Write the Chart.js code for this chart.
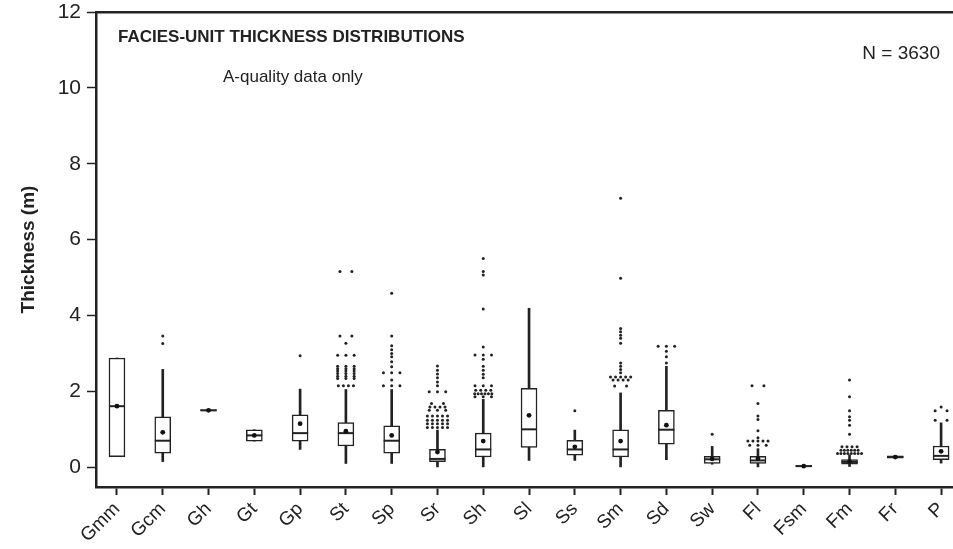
<!DOCTYPE html>
<html>
<head>
<meta charset="utf-8">
<title>Facies-unit thickness distributions</title>
<script src="https://cdn.jsdelivr.net/npm/chart.js@4.4.1/dist/chart.umd.min.js"></script>
<style>
  html, body { margin: 0; padding: 0; background: #fff; overflow: hidden; }
  #wrap { width: 953px; height: 549px; position: relative; }
</style>
</head>
<body>
<div id="wrap"><canvas id="boxChart"></canvas></div>
<script>
// facies codes along the x axis
var categories = ['Gmm', 'Gcm', 'Gh', 'Gt', 'Gp', 'St', 'Sp', 'Sr', 'Sh', 'Sl', 'Ss', 'Sm', 'Sd', 'Sw', 'Fl', 'Fsm', 'Fm', 'Fr', 'P'];

// box-plot statistics, thickness in metres
var whiskerLow  = [0.28, 0.15, 1.49, 0.69, 0.47, 0.10, 0.10, 0.01, 0.01, 0.18, 0.18, 0.01, 0.20, 0.08, 0.01, 0.00, 0.02, 0.24, 0.11];
var q1          = [0.28, 0.37, 1.49, 0.69, 0.69, 0.56, 0.37, 0.15, 0.27, 0.52, 0.32, 0.27, 0.61, 0.10, 0.10, 0.00, 0.08, 0.24, 0.20];
var median      = [1.61, 0.70, 1.50, 0.84, 0.90, 0.90, 0.70, 0.22, 0.47, 1.00, 0.47, 0.47, 0.99, 0.21, 0.18, 0.03, 0.14, 0.27, 0.30];
var q3          = [2.88, 1.33, 1.52, 0.99, 1.38, 1.18, 1.09, 0.47, 0.90, 2.08, 0.71, 0.99, 1.50, 0.29, 0.29, 0.05, 0.20, 0.30, 0.56];
var whiskerHigh = [2.88, 2.58, 1.52, 0.99, 2.06, 2.05, 2.05, 0.98, 1.79, 4.19, 0.98, 1.96, 2.66, 0.55, 0.49, 0.05, 0.33, 0.30, 1.17];
var mean        = [1.61, 0.92, 1.50, 0.84, 1.15, 0.95, 0.84, 0.40, 0.69, 1.37, 0.54, 0.69, 1.11, 0.22, 0.23, 0.03, 0.15, 0.27, 0.42];

// outlying values per facies (repeated values sit side by side)
var outliers = [
    [],
    [3.46, 3.26],
    [],
    [],
    [2.94],
    [5.16, 5.16, 3.46, 3.46, 3.27, 2.95, 2.95, 2.95, 2.66, 2.66, 2.66, 2.60, 2.60, 2.60, 2.54, 2.54, 2.54,
     2.47, 2.47, 2.47, 2.40, 2.40, 2.40, 2.34, 2.34, 2.34, 2.15, 2.15, 2.15, 2.15],
    [4.59, 3.46, 3.20, 3.10, 3.00, 2.91, 2.78, 2.65, 2.49, 2.49, 2.49, 2.30, 2.15, 2.15, 2.15],
    [2.67, 2.56, 2.46, 2.36, 2.25, 2.15, 1.99, 1.99, 1.99, 1.68, 1.68, 1.59, 1.59, 1.59, 1.59, 1.50, 1.50, 1.50,
     1.35, 1.35, 1.35, 1.35, 1.35, 1.24, 1.24, 1.24, 1.24, 1.24, 1.15, 1.15, 1.15, 1.15, 1.15, 1.05, 1.05, 1.05, 1.05, 1.05],
    [5.50, 5.16, 5.07, 4.17, 3.17, 2.96, 2.96, 2.96, 2.85, 2.66, 2.56, 2.45, 2.36, 2.15, 2.15, 2.15,
     2.03, 2.03, 2.03, 2.03, 1.94, 1.94, 1.94, 1.94, 1.94, 1.94, 1.86, 1.86, 1.86],
    [],
    [1.49],
    [7.09, 4.98, 3.66, 3.57, 3.48, 3.40, 3.27, 2.75, 2.66, 2.58, 2.49, 2.38, 2.38, 2.38, 2.38, 2.38,
     2.30, 2.30, 2.30, 2.30, 2.14, 2.14],
    [3.19, 3.19, 3.19, 3.06, 2.91, 2.75],
    [0.87],
    [2.15, 2.15, 1.68, 1.35, 1.26, 0.96, 0.78, 0.69, 0.69, 0.69, 0.69, 0.69, 0.58, 0.58, 0.58],
    [],
    [2.30, 1.86, 1.49, 1.33, 1.24, 1.11, 0.87, 0.54, 0.54, 0.54, 0.54, 0.45, 0.45, 0.45, 0.45, 0.45, 0.45,
     0.36, 0.36, 0.36, 0.36, 0.36, 0.36, 0.36, 0.36],
    [],
    [1.59, 1.49, 1.49, 1.24, 1.24]
];

var yTicks = [0, 2, 4, 6, 8, 10, 12];

var FONT = "'Liberation Sans', Arial, Helvetica, sans-serif";
var INK = '#222';

// horizontal spread for n equal values, in category units
function dotOffsets(n) {
    var step = n === 2 ? 0.26 : n === 3 ? 0.18 : n <= 5 ? 0.11 : 0.075;
    var out = [];
    for (var k = 0; k < n; k++) out.push((k - (n - 1) / 2) * step);
    return out;
}

var outlierPoints = [];
outliers.forEach(function(list, i) {
    var counts = {};
    var order = [];
    list.forEach(function(v) {
        if (!counts[v]) { counts[v] = 0; order.push(v); }
        counts[v]++;
    });
    order.forEach(function(v) {
        dotOffsets(counts[v]).forEach(function(dx) {
            outlierPoints.push({ x: i + dx, y: v });
        });
    });
});

var boxes = categories.map(function(c, i) { return { x: i, y: [q1[i], q3[i]] }; });
var whiskers = categories.map(function(c, i) { return { x: i, y: [whiskerLow[i], whiskerHigh[i]] }; });
var medianPoints = categories.map(function(c, i) { return { x: i, y: median[i] }; });
var meanPoints = categories.map(function(c, i) { return { x: i, y: mean[i] }; });

// captions inside the plot
var captions = {
    id: 'captions',
    afterDraw: function(chart) {
        var ctx = chart.ctx;
        var area = chart.chartArea;
        ctx.save();
        ctx.fillStyle = INK;
        ctx.textBaseline = 'alphabetic';
        ctx.textAlign = 'left';
        ctx.font = 'bold 17px ' + FONT;
        ctx.fillText('FACIES-UNIT THICKNESS DISTRIBUTIONS', area.left + 22, area.top + 30);
        ctx.font = '17px ' + FONT;
        ctx.fillText('A-quality data only', area.left + 127, area.top + 70);
        ctx.font = '19px ' + FONT;
        ctx.textAlign = 'right';
        ctx.fillText('N = 3630', area.left + 844, area.top + 47);
        ctx.restore();
    }
};

var ctx = document.getElementById('boxChart').getContext('2d');
var boxChart = new Chart(ctx, {
    type: 'bar',
    data: {
        datasets: [{
            type: 'scatter',
            data: outlierPoints,
            pointRadius: 1.5,
            pointBackgroundColor: INK,
            pointBorderWidth: 0,
            order: 1
        }, {
            type: 'scatter',
            data: meanPoints,
            pointRadius: 2.4,
            pointBackgroundColor: '#111',
            pointBorderWidth: 0,
            order: 1
        }, {
            type: 'scatter',
            data: medianPoints,
            pointStyle: 'line',
            pointRadius: 8,
            pointBorderColor: INK,
            pointBorderWidth: 2,
            order: 1
        }, {
            type: 'bar',
            data: boxes,
            barThickness: 16,
            backgroundColor: '#fff',
            borderColor: INK,
            borderWidth: 1.5,
            borderSkipped: false,
            grouped: false,
            order: 2
        }, {
            type: 'bar',
            data: whiskers,
            barThickness: 2,
            backgroundColor: INK,
            borderWidth: 0,
            grouped: false,
            order: 3
        }]
    },
    options: {
        responsive: true,
        maintainAspectRatio: false,
        animation: false,
        layout: {
            autoPadding: false,
            padding: { top: 12, right: 0, bottom: 0, left: 0 }
        },
        scales: {
            x: {
                type: 'linear',
                position: 'bottom',
                offset: false,
                min: -0.458,
                max: 18.26,
                afterBuildTicks: function(scale) {
                    scale.ticks = categories.map(function(c, i) { return { value: i }; });
                },
                afterFit: function(scale) {
                    scale.height = 62;
                    scale.paddingLeft = 0;
                    scale.paddingRight = 0;
                },
                ticks: {
                    autoSkip: false,
                    minRotation: 45,
                    maxRotation: 45,
                    padding: 3,
                    color: INK,
                    font: { family: FONT, size: 19 },
                    callback: function(value) { return categories[value]; }
                },
                grid: {
                    display: true,
                    offset: false,
                    drawOnChartArea: false,
                    drawTicks: true,
                    tickLength: 8,
                    tickWidth: 2,
                    tickColor: INK
                },
                border: { display: true, width: 2.5, color: INK }
            },
            xTop: {
                type: 'linear',
                position: 'top',
                offset: false,
                min: -0.458,
                max: 18.26,
                afterFit: function(scale) {
                    scale.height = 0;
                    scale.paddingLeft = 0;
                    scale.paddingRight = 0;
                },
                ticks: { display: false },
                grid: { display: false, offset: false },
                border: { display: true, width: 2.5, color: INK }
            },
            y: {
                type: 'linear',
                min: -0.52,
                max: 12,
                afterBuildTicks: function(scale) {
                    scale.ticks = yTicks.map(function(v) { return { value: v }; });
                },
                afterFit: function(scale) {
                    scale.width = 96;
                    scale.paddingTop = 0;
                    scale.paddingBottom = 0;
                },
                ticks: {
                    padding: 6,
                    color: INK,
                    font: { family: FONT, size: 21 }
                },
                grid: {
                    display: true,
                    drawOnChartArea: false,
                    drawTicks: true,
                    tickLength: 9,
                    tickWidth: 1.5,
                    tickColor: INK
                },
                border: { display: true, width: 2.5, color: INK },
                title: {
                    display: true,
                    text: 'Thickness (m)',
                    color: INK,
                    font: { family: FONT, size: 19, weight: 'bold' },
                    padding: { top: 17, bottom: 0 }
                }
            }
        },
        plugins: {
            legend: { display: false },
            tooltip: { enabled: false }
        }
    },
    plugins: [captions]
});
</script>
</body>
</html>
